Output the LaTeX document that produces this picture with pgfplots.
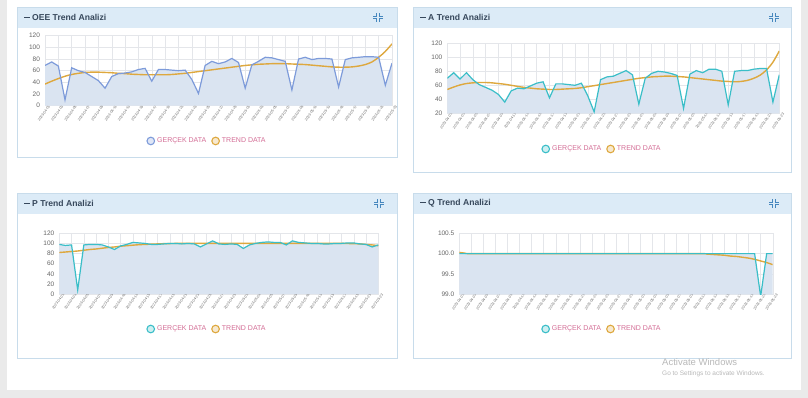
\documentclass[border=0pt]{standalone}
\usepackage{pgfplots}
\pgfplotsset{compat=1.18}
\usepackage{fontspec}
\setmainfont{Liberation Sans}
\definecolor{bggray}{RGB}{234,234,234}
\definecolor{hdrblue}{RGB}{220,235,247}
\definecolor{panelborder}{RGB}{200,220,235}
\definecolor{titlecol}{RGB}{55,72,92}
\definecolor{iconcol}{RGB}{70,135,190}
\definecolor{oeeblue}{RGB}{125,155,218}
\definecolor{teal}{RGB}{58,190,200}
\definecolor{areafill}{RGB}{218,228,241}
\definecolor{trendcol}{RGB}{222,168,62}
\definecolor{legpink}{RGB}{212,110,150}
\definecolor{tickgray}{RGB}{102,102,102}
\definecolor{gridgray}{RGB}{228,230,234}

\pgfplotsset{
  panel/.style={
    scale only axis,
    xmin=0, xmax=52,
    enlargelimits=false,
    axis line style={draw=gridgray},
    grid=major,
    major grid style={draw=gridgray, line width=0.4pt},
    major tick length=0pt,
    xtick={0,2,...,52},
    xticklabels={2023-04-01,2023-04-03,2023-04-05,2023-04-07,2023-04-09,2023-04-11,2023-04-13,2023-04-15,2023-04-17,2023-04-19,2023-04-21,2023-04-23,2023-04-25,2023-04-27,2023-04-29,2023-05-01,2023-05-03,2023-05-05,2023-05-07,2023-05-09,2023-05-11,2023-05-13,2023-05-15,2023-05-17,2023-05-19,2023-05-21,2023-05-23},
    x tick label style={rotate=55, anchor=east, font=\fontsize{3.6}{4}\selectfont, text=tickgray, inner sep=0.5pt, xshift=3pt, yshift=-3.5pt},
    y tick label style={font=\fontsize{6.5}{7}\selectfont, text=tickgray, xshift=-1.5pt},
    /pgf/number format/assume math mode=true,
    legend columns=2,
    legend style={draw=none, fill=none, font=\fontsize{7}{8}\selectfont, text=legpink,
      /tikz/every even column/.append style={column sep=3pt}},
  },
  legreal/.style={legend image code/.code={\draw[draw=#1, fill=#1!25, line width=1.1pt] (4pt,0pt) circle (3.8pt);}},
}

\begin{document}
\begin{tikzpicture}[x=1pt,y=1pt]
% background
\fill[bggray] (0,0) rectangle (808,398);
\fill[white] (7,8) rectangle (801,398);
% panels
\foreach \xa/\xb/\ya/\yb/\yh in {17/397/241/391/370, 413/791/226/391/370, 17/397/40/205/184, 413/791/40/205/184}{
  \fill[white] (\xa,\ya) rectangle (\xb,\yb);
  \fill[hdrblue] (\xa,\yh) rectangle (\xb,\yb);
  \draw[panelborder, line width=0.6pt] (\xa,\ya) rectangle (\xb,\yb);
}
% titles
\foreach \tx/\ty/\tt in {24/380.5/OEE, 420/380.5/A, 24/194.5/P, 420/194.5/Q}{
  \node[anchor=west, text=titlecol, font=\fontsize{8.6}{10}\selectfont\bfseries, inner sep=0pt] at (\tx,\ty) {\rule[2.5pt]{5.5pt}{1.5pt}\hspace{2.5pt}\tt\ Trend Analizi};
}
% compress icons
\foreach \cx/\cy in {378/380.5, 774/380.5, 379/194.5, 774/194.5}{
  \begin{scope}[shift={(\cx,\cy)}, draw=iconcol, line width=1.2pt]
    \draw (-4.8,1.3) -- (-1.3,1.3) -- (-1.3,4.8);
    \draw (4.8,1.3) -- (1.3,1.3) -- (1.3,4.8);
    \draw (-4.8,-1.3) -- (-1.3,-1.3) -- (-1.3,-4.8);
    \draw (4.8,-1.3) -- (1.3,-1.3) -- (1.3,-4.8);
  \end{scope}
}
% watermark
\node[anchor=west, text=gray!55, font=\fontsize{9.5}{10}\selectfont, inner sep=0pt] at (662,36) {Activate Windows};
\node[anchor=west, text=gray!55, font=\fontsize{6.5}{7}\selectfont, inner sep=0pt] at (662,24) {Go to Settings to activate Windows.};

% ---------------- OEE ----------------
\begin{axis}[panel, at={(45pt,292.3pt)}, anchor=south west, width=347pt, height=70pt,
  ymin=0, ymax=120, ytick={0,20,...,120},
  legend style={at={(0.467,-0.504)}, anchor=center}]
\addplot[fill=areafill, draw=none, forget plot] coordinates {
(0,69)(1,75)(2,68)(3,10)(4,65)(5,60)(6,57)(7,50)(8,43)(9,30)(10,50)(11,55)(12,56)(13,58)(14,62)(15,64)(16,42)(17,62)(18,62)(19,61)(20,60)(21,61)(22,45)(23,21)(24,69)(25,76)(26,72)(27,75)(28,81)(29,74)(30,30)(31,70)(32,76)(33,83)(34,82)(35,79)(36,76)(37,27)(38,80)(39,83)(40,79)(41,81)(42,81)(43,80)(44,32)(45,79)(46,82)(47,83)(48,84)(49,84)(50,83)(51,35)(52,73)} \closedcycle;
\addplot[trendcol, line width=1.4pt, smooth, forget plot] coordinates {
(0,37)(1,42)(2,46.5)(3,50.5)(4,53.5)(5,55.5)(6,57)(7,57.5)(8,57.5)(9,57)(10,56.5)(11,55.5)(12,55)(13,54)(14,53.5)(15,53)(16,53)(17,53)(18,53)(19,53.5)(20,54.5)(21,55.5)(22,57)(23,58.5)(24,60)(25,61.5)(26,63)(27,64.5)(28,66)(29,67.5)(30,69)(31,70)(32,71)(33,71.5)(34,72)(35,72)(36,72)(37,71.5)(38,71)(39,70.5)(40,69.5)(41,68.5)(42,67.5)(43,66.5)(44,66)(45,66)(46,66.5)(47,68)(48,70.5)(49,75)(50,83)(51,93)(52,106)};
\addplot[oeeblue, line width=1.2pt, forget plot] coordinates {
(0,69)(1,75)(2,68)(3,10)(4,65)(5,60)(6,57)(7,50)(8,43)(9,30)(10,50)(11,55)(12,56)(13,58)(14,62)(15,64)(16,42)(17,62)(18,62)(19,61)(20,60)(21,61)(22,45)(23,21)(24,69)(25,76)(26,72)(27,75)(28,81)(29,74)(30,30)(31,70)(32,76)(33,83)(34,82)(35,79)(36,76)(37,27)(38,80)(39,83)(40,79)(41,81)(42,81)(43,80)(44,32)(45,79)(46,82)(47,83)(48,84)(49,84)(50,83)(51,35)(52,73)};
\addlegendimage{legreal=oeeblue}
\addlegendentry{GERÇEK DATA}
\addlegendimage{legreal=trendcol}
\addlegendentry{TREND DATA}
\end{axis}

% ---------------- A ----------------
\begin{axis}[panel, at={(447.3pt,284.7pt)}, anchor=south west, width=332pt, height=70pt,
  ymin=20, ymax=120, ytick={20,40,...,120},
  legend style={at={(0.466,-0.51)}, anchor=center}]
\addplot[fill=areafill, draw=none, forget plot] coordinates {
(0,70)(1,78)(2,69)(3,78)(4,68)(5,61)(6,57)(7,53)(8,47)(9,36)(10,52)(11,56)(12,55)(13,59)(14,63)(15,65)(16,42)(17,62)(18,62)(19,61)(20,60)(21,63)(22,45)(23,22)(24,68)(25,72)(26,73)(27,77)(28,81)(29,75)(30,33)(31,70)(32,77)(33,80)(34,79)(35,77)(36,74)(37,27)(38,76)(39,81)(40,78)(41,83)(42,83)(43,80)(44,32)(45,80)(46,81)(47,81)(48,83)(49,84)(50,84)(51,36)(52,75)} \closedcycle;
\addplot[trendcol, line width=1.4pt, smooth, forget plot] coordinates {
(0,54)(1,57.5)(2,60.5)(3,62.5)(4,63.5)(5,64)(6,64)(7,63.5)(8,62.5)(9,61.5)(10,60)(11,58.5)(12,57)(13,56)(14,55)(15,54.5)(16,54)(17,54)(18,54.5)(19,55)(20,55.5)(21,56.5)(22,58)(23,59.5)(24,61)(25,62.5)(26,64)(27,65.5)(28,67)(29,68.5)(30,70)(31,71)(32,72)(33,72.5)(34,73)(35,73)(36,72.5)(37,72)(38,71)(39,70)(40,69)(41,68)(42,67)(43,66)(44,65.5)(45,65)(46,65.5)(47,67)(48,70)(49,74.5)(50,82)(51,93)(52,109)};
\addplot[teal, line width=1.2pt, forget plot] coordinates {
(0,70)(1,78)(2,69)(3,78)(4,68)(5,61)(6,57)(7,53)(8,47)(9,36)(10,52)(11,56)(12,55)(13,59)(14,63)(15,65)(16,42)(17,62)(18,62)(19,61)(20,60)(21,63)(22,45)(23,22)(24,68)(25,72)(26,73)(27,77)(28,81)(29,75)(30,33)(31,70)(32,77)(33,80)(34,79)(35,77)(36,74)(37,27)(38,76)(39,81)(40,78)(41,83)(42,83)(43,80)(44,32)(45,80)(46,81)(47,81)(48,83)(49,84)(50,84)(51,36)(52,75)};
\addlegendimage{legreal=teal}
\addlegendentry{GERÇEK DATA}
\addlegendimage{legreal=trendcol}
\addlegendentry{TREND DATA}
\end{axis}

% ---------------- P ----------------
\begin{axis}[panel, at={(59.3pt,104pt)}, anchor=south west, width=319pt, height=60.7pt,
  ymin=0, ymax=120, ytick={0,20,...,120},
  legend style={at={(0.463,-0.577)}, anchor=center}]
\addplot[fill=areafill, draw=none, forget plot] coordinates {
(0,98)(1,96)(2,97)(3,8)(4,97)(5,98)(6,98)(7,97)(8,93)(9,88)(10,95)(11,98)(12,102)(13,101)(14,100)(15,98)(16,98)(17,99)(18,100)(19,100)(20,99)(21,100)(22,99)(23,93)(24,99)(25,105)(26,99)(27,98)(28,99)(29,98)(30,90)(31,97)(32,100)(33,102)(34,103)(35,102)(36,102)(37,97)(38,105)(39,102)(40,101)(41,100)(42,100)(43,99)(44,99)(45,100)(46,100)(47,101)(48,101)(49,99)(50,98)(51,93)(52,97)} \closedcycle;
\addplot[trendcol, line width=1.4pt, smooth, forget plot] coordinates {
(0,82)(1,83)(2,84)(3,85)(4,86.5)(5,88)(6,89)(7,90.5)(8,92)(9,93)(10,94.5)(11,95.5)(12,96.5)(13,97.5)(14,98)(15,98.5)(16,99)(17,99.5)(18,99.7)(19,100)(20,100)(22,100)(24,100)(26,100)(28,100)(30,100)(32,100)(34,100)(36,100)(38,100)(40,100)(42,100)(44,100)(45,100)(46,100)(47,99.8)(48,99.5)(49,99)(50,98)(51,97)(52,95.5)};
\addplot[teal, line width=1.2pt, forget plot] coordinates {
(0,98)(1,96)(2,97)(3,8)(4,97)(5,98)(6,98)(7,97)(8,93)(9,88)(10,95)(11,98)(12,102)(13,101)(14,100)(15,98)(16,98)(17,99)(18,100)(19,100)(20,99)(21,100)(22,99)(23,93)(24,99)(25,105)(26,99)(27,98)(28,99)(29,98)(30,90)(31,97)(32,100)(33,102)(34,103)(35,102)(36,102)(37,97)(38,105)(39,102)(40,101)(41,100)(42,100)(43,99)(44,99)(45,100)(46,100)(47,101)(48,101)(49,99)(50,98)(51,93)(52,97)};
\addlegendimage{legreal=teal}
\addlegendentry{GERÇEK DATA}
\addlegendimage{legreal=trendcol}
\addlegendentry{TREND DATA}
\end{axis}

% ---------------- Q ----------------
\begin{axis}[panel, at={(459.3pt,103.7pt)}, anchor=south west, width=313.4pt, height=61pt,
  ymin=99, ymax=100.5, ytick={99,99.5,100,100.5},
  yticklabel style={/pgf/number format/.cd, fixed, fixed zerofill, precision=1},
  legend style={at={(0.455,-0.569)}, anchor=center}]
\addplot[fill=areafill, draw=none, forget plot] coordinates {
(0,100)(10,100)(20,100)(30,100)(40,100)(49,100)(50,98.95)(51,100)(52,100)} \closedcycle;
\addplot[trendcol, line width=1.4pt, smooth, forget plot] coordinates {
(0,100.03)(1,100.01)(2,100)(10,100)(20,100)(30,100)(40,100)(41,99.99)(42,99.98)(43,99.97)(44,99.96)(45,99.94)(46,99.93)(47,99.91)(48,99.89)(49,99.86)(50,99.82)(51,99.78)(52,99.73)};
\addplot[teal, line width=1.2pt, forget plot] coordinates {
(0,100)(10,100)(20,100)(30,100)(40,100)(49,100)(50,98.95)(51,100)(52,100)};
\addlegendimage{legreal=teal}
\addlegendentry{GERÇEK DATA}
\addlegendimage{legreal=trendcol}
\addlegendentry{TREND DATA}
\end{axis}
\end{tikzpicture}
\end{document}
